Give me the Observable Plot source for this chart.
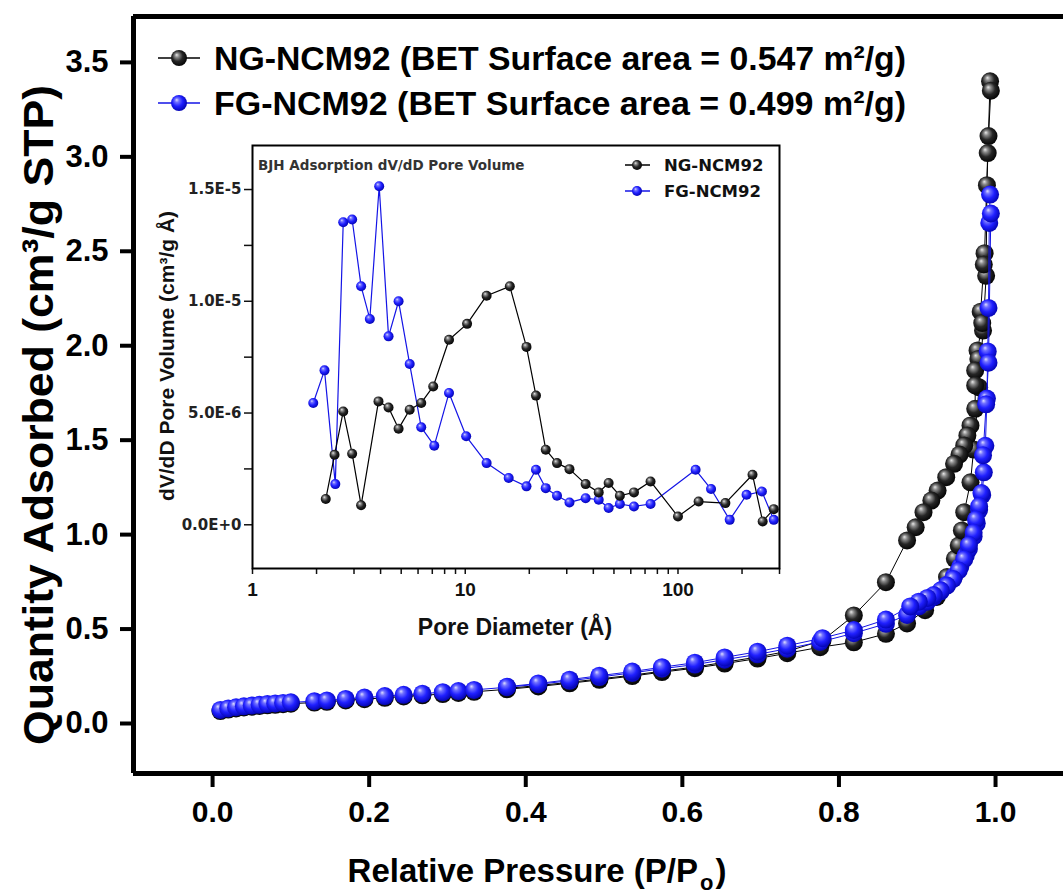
<!DOCTYPE html>
<html><head><meta charset="utf-8">
<script src="https://cdn.jsdelivr.net/npm/d3@7"></script>
<script src="https://cdn.jsdelivr.net/npm/@observablehq/plot@0.6"></script>
<style>
body{margin:0;background:#fff;}
#wrap{position:relative;width:1063px;height:896px;overflow:hidden;background:#fff;}
#main{position:absolute;left:0;top:0;}
#inset{position:absolute;left:140px;top:140px;}
</style></head><body>
<div id="wrap"><div id="main"></div><div id="inset"></div></div>
<script>
// ---------------- data ----------------
const seriesNames = ["NG-NCM92", "FG-NCM92"];
const betAreas = ["0.547", "0.499"];
const xTicks = [0.0, 0.2, 0.4, 0.6, 0.8, 1.0];
const yTicks = [0.0, 0.5, 1.0, 1.5, 2.0, 2.5, 3.0, 3.5];
const insetXTicks = [1,2,3,4,5,6,7,8,9,10,20,30,40,50,60,70,80,90,100,200,300];
const insetXLabels = {1:"1", 10:"10", 100:"100"};
const insetYTicks = [0, 2.5e-6, 5e-6, 7.5e-6, 1e-5, 1.25e-5, 1.5e-5];
const insetYLabels = {0:"0.0E+0", 5e-6:"5.0E-6", 1e-5:"1.0E-5", 1.5e-5:"1.5E-5"};

// isotherm branches [P/Po, quantity adsorbed cm3/g STP]
const ngAds = [[0.010,0.066],[0.020,0.074],[0.030,0.080],[0.040,0.085],[0.050,0.089],[0.060,0.093],[0.070,0.096],[0.080,0.099],[0.090,0.102],[0.100,0.105],[0.130,0.111],[0.146,0.115],[0.170,0.122],[0.194,0.129],[0.220,0.136],[0.244,0.143],[0.268,0.149],[0.294,0.156],[0.314,0.162],[0.334,0.168],[0.376,0.181],[0.416,0.196],[0.456,0.213],[0.494,0.231],[0.536,0.251],[0.574,0.272],[0.616,0.293],[0.654,0.317],[0.696,0.344],[0.734,0.372],[0.776,0.404],[0.819,0.430],[0.860,0.475],[0.887,0.530],[0.910,0.600],[0.925,0.670],[0.938,0.775],[0.948,0.872],[0.953,0.942],[0.957,1.022],[0.960,1.119],[0.968,1.277],[0.972,1.450],[0.979,1.780],[0.984,2.080],[0.988,2.370],[0.989,2.850],[0.993,3.400]];
const ngDes = [[0.994,3.350],[0.991,3.110],[0.990,3.020],[0.986,2.490],[0.985,2.430],[0.981,2.180],[0.983,2.120],[0.977,1.975],[0.978,1.930],[0.974,1.869],[0.974,1.790],[0.974,1.666],[0.968,1.578],[0.964,1.525],[0.960,1.472],[0.954,1.424],[0.947,1.375],[0.937,1.304],[0.926,1.233],[0.918,1.180],[0.908,1.119],[0.898,1.039],[0.887,0.969],[0.860,0.748],[0.819,0.572],[0.779,0.440],[0.734,0.382],[0.696,0.352],[0.654,0.324],[0.616,0.299],[0.574,0.277],[0.536,0.256],[0.494,0.236],[0.456,0.218],[0.416,0.201],[0.376,0.186]];
const fgAds = [[0.010,0.072],[0.020,0.080],[0.030,0.086],[0.040,0.091],[0.050,0.095],[0.060,0.099],[0.070,0.103],[0.080,0.106],[0.090,0.109],[0.100,0.112],[0.130,0.118],[0.146,0.122],[0.170,0.130],[0.194,0.137],[0.220,0.145],[0.244,0.152],[0.268,0.158],[0.294,0.166],[0.314,0.172],[0.334,0.178],[0.376,0.192],[0.416,0.208],[0.456,0.226],[0.494,0.246],[0.536,0.268],[0.574,0.290],[0.616,0.312],[0.654,0.338],[0.696,0.366],[0.734,0.396],[0.776,0.432],[0.819,0.478],[0.860,0.528],[0.887,0.575],[0.902,0.620],[0.913,0.645],[0.921,0.670],[0.930,0.700],[0.938,0.735],[0.947,0.780],[0.955,0.830],[0.962,0.890],[0.966,0.925],[0.972,0.990],[0.976,1.060],[0.979,1.130],[0.983,1.210],[0.985,1.330],[0.987,1.470],[0.989,1.720],[0.990,1.970],[0.991,2.200],[0.992,2.650],[0.993,2.800]];
const fgDes = [[0.994,2.700],[0.991,1.910],[0.988,1.690],[0.984,1.420],[0.982,1.220],[0.979,1.150],[0.975,1.080],[0.972,1.010],[0.966,0.945],[0.960,0.870],[0.953,0.810],[0.946,0.765],[0.938,0.730],[0.930,0.705],[0.921,0.680],[0.913,0.665],[0.902,0.645],[0.891,0.620],[0.860,0.550],[0.819,0.495],[0.779,0.452],[0.734,0.412],[0.696,0.380],[0.654,0.350],[0.616,0.322],[0.574,0.298],[0.536,0.275],[0.494,0.253],[0.456,0.232],[0.416,0.212],[0.376,0.195]];

// BJH pore distribution [pore diameter Å, dV/dD cm3/g·Å]
const ngPore = [[2.21,1.15e-6],[2.43,3.13e-6],[2.67,5.07e-6],[2.94,3.18e-6],[3.24,0.87e-6],[3.91,5.52e-6],[4.36,5.25e-6],[4.86,4.30e-6],[5.48,5.15e-6],[6.21,5.45e-6],[7.07,6.19e-6],[8.39,8.28e-6],[10.2,8.99e-6],[12.6,10.25e-6],[16.2,10.67e-6],[19.4,7.96e-6],[21.5,5.78e-6],[23.9,3.36e-6],[27.0,2.76e-6],[30.9,2.49e-6],[36.8,1.82e-6],[42.4,1.45e-6],[47.2,1.87e-6],[53.3,1.30e-6],[62.1,1.45e-6],[74.3,1.94e-6],[100,0.37e-6],[125,1.04e-6],[167,0.97e-6],[224,2.24e-6],[250,0.15e-6],[282,0.70e-6]];
const fgPore = [[1.93,5.45e-6],[2.18,6.91e-6],[2.45,1.82e-6],[2.67,13.54e-6],[2.94,13.66e-6],[3.24,10.67e-6],[3.56,9.21e-6],[3.94,15.15e-6],[4.36,8.43e-6],[4.86,10.0e-6],[5.48,7.19e-6],[6.21,4.36e-6],[7.15,3.54e-6],[8.39,5.90e-6],[10.1,3.96e-6],[12.6,2.76e-6],[16.0,2.09e-6],[19.4,1.72e-6],[21.5,2.46e-6],[23.9,1.64e-6],[27.0,1.30e-6],[30.9,1.00e-6],[36.8,1.19e-6],[42.4,1.12e-6],[47.2,0.75e-6],[53.3,0.93e-6],[62.1,0.82e-6],[74.3,0.93e-6],[121,2.46e-6],[143,1.60e-6],[175,0.22e-6],[210,1.34e-6],[248,1.49e-6],[282,0.22e-6]];

// ---------------- styles ----------------
const FONT = "'Liberation Sans', Arial, Helvetica, sans-serif";
const DJ = "'DejaVu Sans', Verdana, sans-serif";
const BLACK = "#000000", BLUE = "#1414e6";
const ballK = "url(#ballK)", ballB = "url(#ballB)";

// ---------------- main chart ----------------
const X0 = -0.101, X1 = 1.0868, Y0 = -0.2647, Y1 = 3.743;
const main = Plot.plot({
  width: 1063, height: 896,
  marginLeft: 133, marginRight: 0, marginTop: 16, marginBottom: 123,
  x: {domain: [X0, X1]},
  y: {domain: [Y0, Y1]},
  style: {background: "white", overflow: "hidden"},
  marks: [
    Plot.axisX(xTicks, {tickSize: 14, tickPadding: 13, strokeWidth: 4, tickFormat: d => d.toFixed(1),
      fontSize: 30, fontWeight: "bold", fontFamily: FONT, fill: "black", stroke: "black", label: null}),
    Plot.axisY(yTicks, {tickSize: 13, tickPadding: 12, strokeWidth: 4, tickFormat: d => d.toFixed(1),
      fontSize: 31, fontWeight: "bold", fontFamily: FONT, fill: "black", stroke: "black", label: null}),
    Plot.line(ngAds, {x: d => d[0], y: d => d[1], stroke: BLACK, strokeWidth: 1}),
    Plot.line(ngDes, {x: d => d[0], y: d => d[1], stroke: BLACK, strokeWidth: 1}),
    Plot.dot(ngAds, {x: d => d[0], y: d => d[1], r: 9, fill: ballK, stroke: "none"}),
    Plot.dot(ngDes, {x: d => d[0], y: d => d[1], r: 9, fill: ballK, stroke: "none"}),
    Plot.line(fgAds, {x: d => d[0], y: d => d[1], stroke: BLUE, strokeWidth: 1}),
    Plot.line(fgDes, {x: d => d[0], y: d => d[1], stroke: BLUE, strokeWidth: 1}),
    Plot.dot(fgAds, {x: d => d[0], y: d => d[1], r: 9, fill: ballB, stroke: "none"}),
    Plot.dot(fgDes, {x: d => d[0], y: d => d[1], r: 9, fill: ballB, stroke: "none"}),
    Plot.ruleX([X0], {stroke: "black", strokeWidth: 5}),
    Plot.ruleY([Y0, Y1], {stroke: "black", strokeWidth: 5})
  ]
});
document.getElementById("main").appendChild(main);

// gradients for shaded spheres
const svg = d3.select(main);
const defs = svg.insert("defs", ":first-child");
function ball(id, stops) {
  const g = defs.append("radialGradient").attr("id", id)
    .attr("cx", "45%").attr("cy", "45%").attr("r", "60%").attr("fx", "35%").attr("fy", "30%");
  stops.forEach(([o, c]) => g.append("stop").attr("offset", o).attr("stop-color", c));
}
ball("ballK", [["0%", "#e8e8e8"], ["22%", "#8a8a8a"], ["55%", "#262626"], ["100%", "#000"]]);
ball("ballB", [["0%", "#dcdcff"], ["22%", "#7070ff"], ["55%", "#2020ff"], ["100%", "#0000a8"]]);

// axis titles
const xt = svg.append("text").attr("x", 537).attr("y", 882).attr("text-anchor", "middle")
  .attr("font-family", FONT).attr("font-weight", "bold").attr("font-size", 33).attr("fill", "black");
xt.append("tspan").text("Relative Pressure (P/P");
xt.append("tspan").attr("font-size", 22).attr("dy", 8).attr("dx", 2).text("o");
xt.append("tspan").attr("dy", -8).attr("dx", 2).text(")");

const yt = svg.append("text").attr("transform", "translate(53,415) rotate(-90)").attr("text-anchor", "middle")
  .attr("font-family", FONT).attr("font-weight", "bold").attr("font-size", 43).attr("fill", "black")
  .attr("textLength", 660).attr("lengthAdjust", "spacingAndGlyphs")
  .text("Quantity Adsorbed (cm³/g STP)");

// legend
const legY = [58, 103], legFill = [ballK, ballB], legCol = [BLACK, BLUE];
seriesNames.forEach((name, i) => {
  svg.append("line").attr("x1", 158).attr("x2", 200).attr("y1", legY[i]).attr("y2", legY[i])
    .attr("stroke", legCol[i]).attr("stroke-width", 1.5);
  svg.append("circle").attr("cx", 179).attr("cy", legY[i]).attr("r", 8).attr("fill", legFill[i]);
  svg.append("text").attr("x", 214).attr("y", legY[i]).attr("dy", "0.36em").attr("text-anchor", "start")
    .attr("font-family", FONT).attr("font-weight", "bold").attr("font-size", 34).attr("fill", "black")
    .attr("textLength", 692).attr("lengthAdjust", "spacingAndGlyphs")
    .text(`${name} (BET Surface area = ${betAreas[i]} m²/g)`);
});

// ---------------- inset ----------------
const inset = Plot.plot({
  width: 660, height: 500,
  marginLeft: 112, marginRight: 21, marginTop: 5, marginBottom: 72,
  x: {type: "log", domain: [1, 300]},
  y: {domain: [-1.956e-6, 1.697e-5]},
  style: {background: "transparent", overflow: "visible"},
  marks: [
    Plot.frame({fill: "white", stroke: "none"}),
    Plot.axisX(insetXTicks, {tickSize: 6, tickPadding: 8, strokeWidth: 1.5, tickFormat: d => insetXLabels[d] || "",
      fontSize: 19, fontWeight: "bold", fontFamily: FONT, fill: "#111", stroke: "#111", label: null}),
    Plot.axisY(insetYTicks, {tickSize: 8, tickPadding: 3, strokeWidth: 1.5, tickFormat: d => insetYLabels[d] || "",
      fontSize: 15, fontWeight: "bold", fontFamily: DJ, fill: "#222", stroke: "#111", label: null}),
    Plot.line(fgPore, {x: d => d[0], y: d => d[1], stroke: BLUE, strokeWidth: 1.2}),
    Plot.line(ngPore, {x: d => d[0], y: d => d[1], stroke: BLACK, strokeWidth: 1.2}),
    Plot.dot(fgPore, {x: d => d[0], y: d => d[1], r: 5, fill: ballB, stroke: "none"}),
    Plot.dot(ngPore, {x: d => d[0], y: d => d[1], r: 5, fill: ballK, stroke: "none"}),
    Plot.frame({stroke: "black", strokeWidth: 2})
  ]
});
document.getElementById("inset").appendChild(inset);
const isv = d3.select(inset);

isv.append("text").attr("x", 118).attr("y", 25).attr("dy", "0.36em").attr("text-anchor", "start")
  .attr("font-family", DJ).attr("font-weight", "bold").attr("font-size", 13.5).attr("fill", "#333")
  .text("BJH Adsorption dV/dD Pore Volume");

const insLegY = [25, 51];
seriesNames.forEach((name, i) => {
  isv.append("line").attr("x1", 485).attr("x2", 510).attr("y1", insLegY[i]).attr("y2", insLegY[i])
    .attr("stroke", legCol[i]).attr("stroke-width", 1.5);
  isv.append("circle").attr("cx", 497).attr("cy", insLegY[i]).attr("r", 5).attr("fill", legFill[i]);
  isv.append("text").attr("x", 524).attr("y", insLegY[i]).attr("dy", "0.36em").attr("text-anchor", "start")
    .attr("font-family", DJ).attr("font-weight", "bold").attr("font-size", 16.5).attr("fill", "#111")
    .text(name);
});

isv.append("text").attr("x", 375).attr("y", 495).attr("text-anchor", "middle")
  .attr("font-family", FONT).attr("font-weight", "bold").attr("font-size", 23).attr("fill", "#111")
  .text("Pore Diameter (Å)");
isv.append("text").attr("transform", "translate(34,216) rotate(-90)").attr("text-anchor", "middle")
  .attr("font-family", FONT).attr("font-weight", "bold").attr("font-size", 21).attr("fill", "#111")
  .text("dV/dD Pore Volume (cm³/g Å)");
</script>
</body></html>
